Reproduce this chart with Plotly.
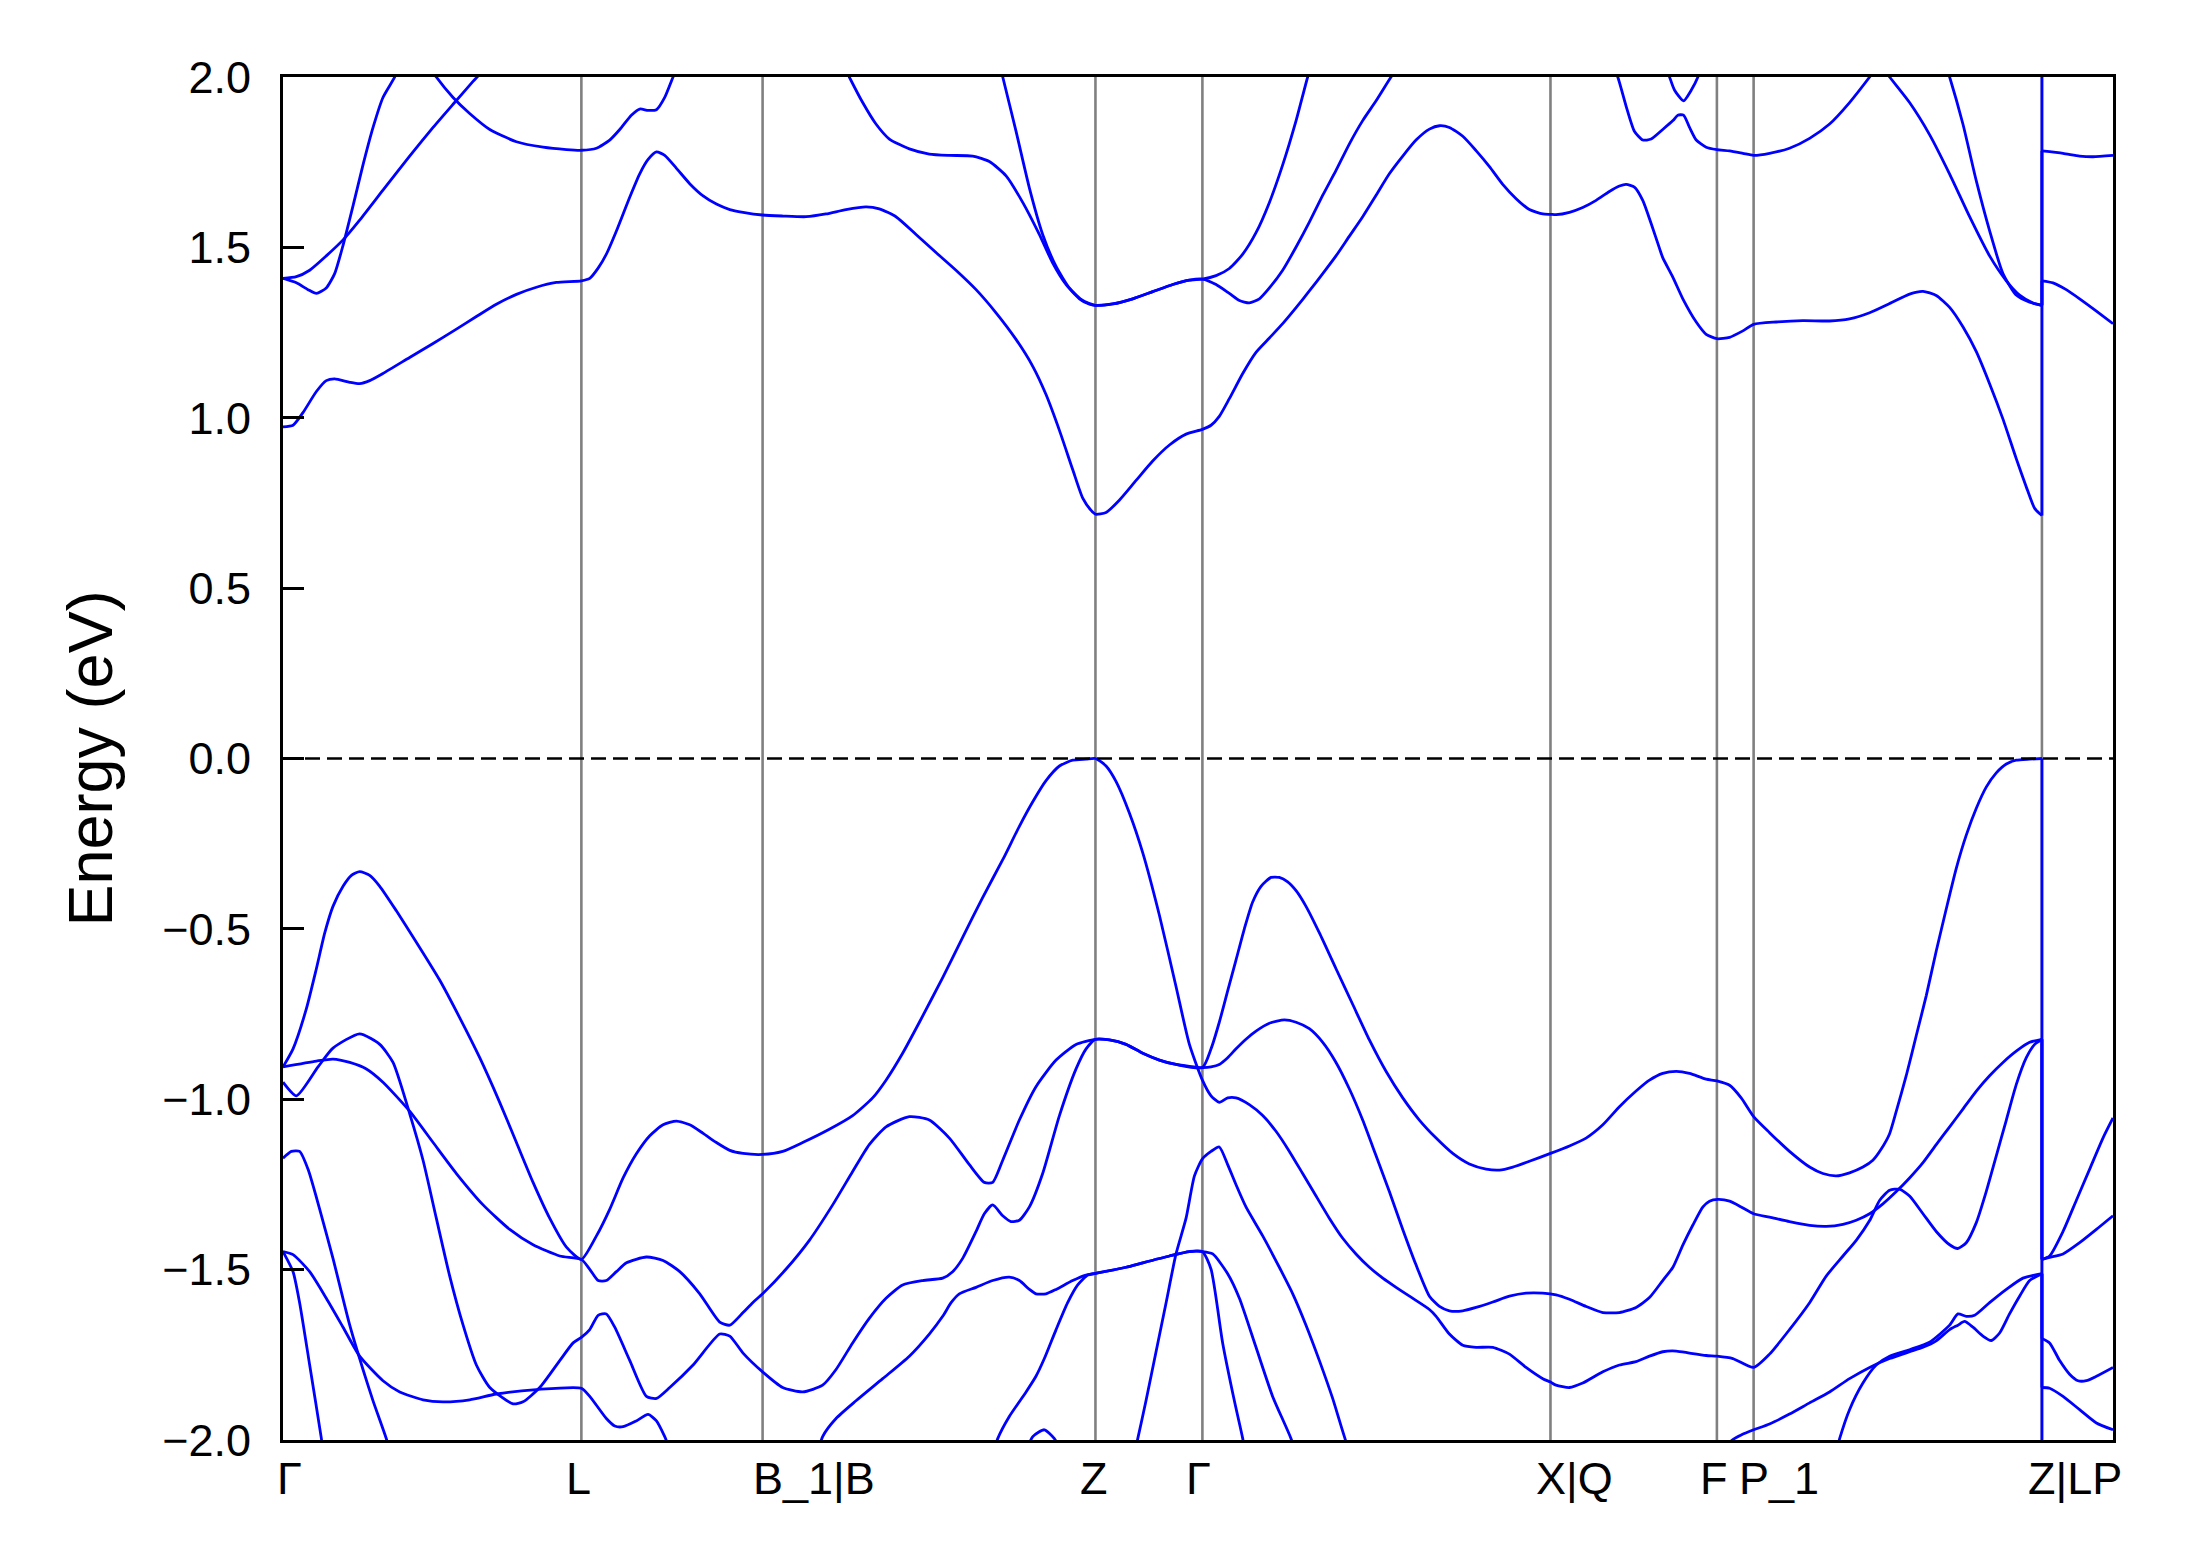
import plotly.graph_objects as go

# ---------------- data ----------------
TICK_K = [0.000, 2.137, 3.435, 5.819, 6.585, 9.078, 10.270, 10.533, 12.598, 13.107]
TICK_LABELS = ["Γ", "L", "B_1|B", "Z", "Γ", "X|Q", "F", "P_1", "Z|LP", ""]
Y_TICKS = [-2.0, -1.5, -1.0, -0.5, 0.0, 0.5, 1.0, 1.5, 2.0]
Y_TICK_TEXT = ["−2.0", "−1.5", "−1.0", "−0.5", "0.0", "0.5", "1.0", "1.5", "2.0"]

V1 = [(0.000, -0.905), (0.072, -0.852), (0.167, -0.735), (0.239, -0.617), (0.299, -0.512), (0.358, -0.434), (0.430, -0.375), (0.490, -0.343), (0.549, -0.332), (0.621, -0.343), (0.693, -0.375), (0.812, -0.447), (0.955, -0.539), (1.122, -0.650), (1.266, -0.761), (1.409, -0.878), (1.552, -1.009), (1.672, -1.127), (1.791, -1.244), (1.910, -1.349), (2.030, -1.434), (2.137, -1.470),
      (2.245, -1.401), (2.340, -1.323), (2.436, -1.231), (2.531, -1.160), (2.627, -1.107), (2.722, -1.075), (2.818, -1.064), (2.913, -1.075), (3.009, -1.100), (3.104, -1.127), (3.200, -1.150), (3.295, -1.159), (3.435, -1.162),
      (3.579, -1.153), (3.722, -1.127), (3.913, -1.088), (4.080, -1.048), (4.223, -0.996), (4.319, -0.944), (4.438, -0.865), (4.558, -0.774), (4.725, -0.643), (4.868, -0.525), (5.011, -0.408), (5.155, -0.297), (5.274, -0.199), (5.370, -0.127), (5.465, -0.065), (5.561, -0.022), (5.656, -0.005), (5.752, -0.002), (5.819, 0.000),
      (5.895, -0.022), (5.967, -0.068), (6.062, -0.160), (6.158, -0.277), (6.277, -0.460), (6.396, -0.669), (6.492, -0.839), (6.585, -0.944),
      (6.647, -0.990), (6.706, -1.009), (6.766, -0.996), (6.826, -0.996), (6.921, -1.016), (7.017, -1.048), (7.112, -1.094), (7.208, -1.153), (7.303, -1.218), (7.399, -1.284), (7.494, -1.349), (7.590, -1.408), (7.685, -1.454), (7.781, -1.493), (7.877, -1.525), (7.972, -1.552), (8.068, -1.578), (8.211, -1.617), (8.259, -1.637), (8.354, -1.689), (8.450, -1.722), (8.545, -1.728), (8.665, -1.728), (8.784, -1.748), (8.903, -1.787), (9.023, -1.820), (9.078, -1.830), (9.118, -1.839), (9.214, -1.846), (9.309, -1.833), (9.453, -1.800), (9.572, -1.780), (9.691, -1.770), (9.787, -1.754), (9.882, -1.741),
      (9.979, -1.739), (10.074, -1.745), (10.193, -1.752), (10.270, -1.754), (10.384, -1.761), (10.533, -1.787), (10.647, -1.748), (10.790, -1.676), (10.934, -1.597), (11.053, -1.519), (11.173, -1.460), (11.268, -1.414), (11.364, -1.356), (11.435, -1.297), (11.507, -1.267), (11.578, -1.264), (11.650, -1.284), (11.746, -1.336), (11.841, -1.388), (11.937, -1.427), (11.996, -1.438), (12.056, -1.421), (12.128, -1.362), (12.199, -1.271), (12.271, -1.166), (12.343, -1.061), (12.414, -0.957), (12.486, -0.878), (12.546, -0.839), (12.598, -0.824),
      (12.598, -1.470), (12.653, -1.460), (12.749, -1.388), (12.844, -1.297), (12.940, -1.205), (13.035, -1.114), (13.107, -1.055)]

V2 = [(0.000, -0.905), (0.239, -0.888), (0.358, -0.882), (0.478, -0.892), (0.597, -0.911), (0.716, -0.950), (0.907, -1.035), (1.075, -1.127), (1.242, -1.218), (1.433, -1.310), (1.624, -1.382), (1.791, -1.427), (1.982, -1.460), (2.137, -1.470),
      (2.197, -1.499), (2.257, -1.532), (2.316, -1.532), (2.388, -1.506), (2.460, -1.480), (2.603, -1.463), (2.722, -1.473), (2.842, -1.506), (2.985, -1.571), (3.128, -1.654), (3.200, -1.663), (3.295, -1.626), (3.364, -1.597), (3.435, -1.571),
      (3.602, -1.499), (3.770, -1.414), (3.937, -1.310), (4.080, -1.212), (4.199, -1.133), (4.319, -1.081), (4.486, -1.051), (4.629, -1.061), (4.773, -1.114), (4.916, -1.192), (5.023, -1.244), (5.083, -1.244), (5.155, -1.179), (5.274, -1.061), (5.393, -0.963), (5.537, -0.885), (5.680, -0.839), (5.819, -0.824),
      (5.919, -0.826), (6.038, -0.839), (6.158, -0.865), (6.277, -0.885), (6.396, -0.898), (6.585, -0.907),
      (6.647, -0.852), (6.706, -0.774), (6.766, -0.682), (6.826, -0.591), (6.886, -0.499), (6.945, -0.421), (7.005, -0.375), (7.077, -0.349), (7.136, -0.349), (7.196, -0.362), (7.256, -0.388), (7.327, -0.434), (7.423, -0.512), (7.542, -0.617), (7.662, -0.722), (7.781, -0.826), (7.900, -0.918), (8.020, -0.996), (8.139, -1.061), (8.259, -1.114), (8.378, -1.159), (8.497, -1.190), (8.617, -1.205), (8.712, -1.208), (8.808, -1.199), (8.927, -1.182), (9.078, -1.159), (9.214, -1.137), (9.333, -1.114), (9.453, -1.075), (9.572, -1.022), (9.691, -0.976), (9.787, -0.944), (9.882, -0.924),
      (9.979, -0.918), (10.074, -0.924), (10.193, -0.941), (10.270, -0.946), (10.361, -0.959), (10.444, -0.996), (10.533, -1.051), (10.647, -1.098), (10.790, -1.153), (10.934, -1.199), (11.029, -1.218), (11.125, -1.225), (11.220, -1.216), (11.316, -1.199), (11.387, -1.179), (11.447, -1.146), (11.507, -1.101), (11.555, -1.035), (11.626, -0.931), (11.698, -0.813), (11.770, -0.695), (11.841, -0.565), (11.913, -0.441), (11.984, -0.323), (12.056, -0.225), (12.128, -0.146), (12.199, -0.084), (12.271, -0.042), (12.343, -0.016), (12.414, -0.005), (12.510, -0.002), (12.598, 0.000),
      (12.598, -1.470), (12.653, -1.464), (12.749, -1.454), (12.868, -1.421), (12.988, -1.382), (13.107, -1.342)]

V3 = [(0.000, -0.950), (0.096, -0.990), (0.251, -0.905), (0.358, -0.850), (0.549, -0.808), (0.693, -0.839), (0.788, -0.892), (0.907, -1.042), (1.003, -1.179), (1.098, -1.349), (1.194, -1.519), (1.290, -1.663), (1.385, -1.780), (1.481, -1.846), (1.648, -1.894), (1.719, -1.888), (1.839, -1.846), (1.982, -1.767), (2.078, -1.715), (2.137, -1.699),
      (2.197, -1.676), (2.257, -1.634), (2.316, -1.630), (2.376, -1.669), (2.484, -1.767), (2.603, -1.872), (2.675, -1.878), (2.770, -1.846), (2.937, -1.780), (3.128, -1.689), (3.200, -1.695), (3.295, -1.745), (3.435, -1.800),
      (3.579, -1.846), (3.722, -1.859), (3.865, -1.839), (3.961, -1.793), (4.080, -1.715), (4.199, -1.643), (4.319, -1.584), (4.438, -1.545), (4.582, -1.532), (4.725, -1.525), (4.796, -1.506), (4.868, -1.467), (4.964, -1.388), (5.023, -1.336), (5.083, -1.310), (5.155, -1.342), (5.214, -1.359), (5.274, -1.355), (5.346, -1.316), (5.441, -1.218), (5.561, -1.048), (5.680, -0.911), (5.752, -0.852), (5.819, -0.824),
      (5.919, -0.826), (6.038, -0.839), (6.158, -0.865), (6.277, -0.885), (6.396, -0.898), (6.585, -0.907),
      (6.647, -0.905), (6.706, -0.898), (6.766, -0.878), (6.826, -0.852), (6.897, -0.824), (6.969, -0.800), (7.065, -0.777), (7.172, -0.767), (7.256, -0.774), (7.351, -0.793), (7.447, -0.833), (7.542, -0.892), (7.638, -0.970), (7.733, -1.061), (7.829, -1.166), (7.924, -1.271), (8.020, -1.382), (8.115, -1.486), (8.211, -1.578), (8.283, -1.608), (8.354, -1.621), (8.450, -1.621), (8.545, -1.611), (8.665, -1.595), (8.784, -1.578), (8.903, -1.569), (9.023, -1.569), (9.118, -1.574), (9.214, -1.587), (9.333, -1.608), (9.453, -1.626), (9.572, -1.626), (9.691, -1.611), (9.787, -1.582), (9.882, -1.532),
      (9.955, -1.493), (10.026, -1.428), (10.098, -1.369), (10.170, -1.316), (10.217, -1.299), (10.277, -1.294), (10.361, -1.299), (10.444, -1.316), (10.533, -1.336), (10.647, -1.346), (10.790, -1.359), (10.934, -1.370), (11.053, -1.373), (11.173, -1.367), (11.268, -1.355), (11.364, -1.336), (11.459, -1.307), (11.555, -1.271), (11.650, -1.231), (11.746, -1.186), (11.841, -1.133), (11.937, -1.081), (12.032, -1.029), (12.128, -0.976), (12.223, -0.931), (12.319, -0.892), (12.414, -0.859), (12.510, -0.833), (12.598, -0.824),
      (12.598, -1.702), (12.653, -1.715), (12.725, -1.767), (12.796, -1.807), (12.856, -1.826), (12.916, -1.826), (12.988, -1.813), (13.107, -1.787)]

V4 = [(0.000, -1.447), (0.072, -1.456), (0.191, -1.506), (0.310, -1.584), (0.430, -1.669), (0.549, -1.754), (0.716, -1.826), (0.836, -1.859), (1.003, -1.882), (1.146, -1.888), (1.337, -1.882), (1.528, -1.865), (1.815, -1.852), (2.137, -1.848),
      (2.197, -1.872), (2.316, -1.937), (2.376, -1.959), (2.436, -1.961), (2.531, -1.944), (2.615, -1.925), (2.675, -1.944), (2.734, -1.990), (2.850, -2.100), (3.435, -2.300), (3.750, -2.150),
      (3.865, -1.990), (3.961, -1.937), (4.104, -1.885), (4.295, -1.820), (4.486, -1.754), (4.629, -1.689), (4.725, -1.637), (4.785, -1.597), (4.844, -1.571), (4.964, -1.552), (5.083, -1.532), (5.202, -1.522), (5.274, -1.532), (5.346, -1.558), (5.393, -1.571), (5.465, -1.571), (5.537, -1.558), (5.656, -1.532), (5.752, -1.516), (5.819, -1.511),
      (6.038, -1.493), (6.158, -1.480), (6.349, -1.460), (6.492, -1.447), (6.585, -1.447),
      (6.659, -1.454), (6.766, -1.512), (6.850, -1.584), (6.969, -1.728), (7.088, -1.872), (7.220, -1.996), (7.350, -2.150), (9.078, -2.500), (10.100, -2.200), (10.300, -2.040),
      (10.380, -2.000), (10.444, -1.985), (10.533, -1.970), (10.647, -1.953), (10.790, -1.924), (10.934, -1.891), (11.077, -1.859), (11.220, -1.820), (11.364, -1.787), (11.507, -1.761), (11.650, -1.741), (11.746, -1.728), (11.841, -1.709), (11.937, -1.676), (11.996, -1.663), (12.044, -1.652), (12.104, -1.669), (12.175, -1.695), (12.235, -1.708), (12.295, -1.686), (12.366, -1.630), (12.438, -1.578), (12.510, -1.532), (12.598, -1.512),
      (12.598, -1.846), (12.653, -1.848), (12.749, -1.872), (12.868, -1.911), (12.988, -1.950), (13.107, -1.970)]

V5 = [(0.000, -1.173), (0.060, -1.153), (0.119, -1.153), (0.179, -1.205), (0.263, -1.323), (0.358, -1.467), (0.478, -1.663), (0.573, -1.793), (0.645, -1.885), (0.740, -1.996), (0.800, -2.080), (2.137, -2.400), (4.500, -2.400), (5.298, -2.050), (5.370, -1.990), (5.453, -1.970), (5.525, -1.996), (5.584, -2.040), (5.819, -2.200), (6.050, -2.130),
      (6.122, -1.996), (6.181, -1.885), (6.253, -1.741), (6.325, -1.597), (6.396, -1.454), (6.468, -1.349), (6.528, -1.225), (6.585, -1.175),
      (6.647, -1.153), (6.706, -1.140), (6.766, -1.192), (6.826, -1.251), (6.897, -1.316), (7.017, -1.401), (7.136, -1.493), (7.232, -1.571), (7.327, -1.663), (7.423, -1.767), (7.518, -1.878), (7.602, -1.990), (7.700, -2.100), (9.078, -2.500), (11.050, -2.150),
      (11.149, -1.996), (11.220, -1.911), (11.316, -1.833), (11.411, -1.780), (11.507, -1.754), (11.650, -1.735), (11.793, -1.713), (11.937, -1.663), (11.996, -1.630), (12.056, -1.637), (12.116, -1.634), (12.223, -1.597), (12.343, -1.558), (12.462, -1.525), (12.598, -1.512),
      (12.598, -2.300), (13.107, -2.300)]

V6 = [(0.000, -1.447), (0.072, -1.506), (0.119, -1.597), (0.191, -1.780), (0.275, -1.996), (0.310, -2.100), (2.137, -2.500), (4.900, -2.300), (5.050, -2.090),
      (5.119, -1.996), (5.202, -1.931), (5.322, -1.859), (5.393, -1.813), (5.453, -1.761), (5.537, -1.676), (5.620, -1.597), (5.692, -1.545), (5.764, -1.516), (5.819, -1.511),
      (6.038, -1.493), (6.158, -1.480), (6.349, -1.460), (6.492, -1.447), (6.585, -1.447),
      (6.647, -1.499), (6.730, -1.715), (6.814, -1.885), (6.874, -1.996), (6.920, -2.100), (7.100, -2.300)]

C1 = [(0.000, 0.973), (0.072, 0.978), (0.143, 1.015), (0.239, 1.077), (0.310, 1.109), (0.370, 1.114), (0.478, 1.104), (0.549, 1.100), (0.621, 1.109), (0.716, 1.130), (0.907, 1.177), (1.075, 1.218), (1.242, 1.260), (1.385, 1.297), (1.528, 1.333), (1.672, 1.362), (1.815, 1.383), (1.958, 1.397), (2.137, 1.402),
      (2.197, 1.409), (2.257, 1.439), (2.316, 1.480), (2.388, 1.548), (2.484, 1.648), (2.555, 1.716), (2.615, 1.758), (2.675, 1.780), (2.734, 1.770), (2.818, 1.732), (2.913, 1.687), (3.009, 1.651), (3.104, 1.627), (3.200, 1.611), (3.295, 1.603), (3.435, 1.595),
      (3.579, 1.592), (3.746, 1.590), (3.889, 1.598), (4.032, 1.611), (4.176, 1.619), (4.271, 1.613), (4.390, 1.590), (4.534, 1.538), (4.677, 1.485), (4.820, 1.433), (4.964, 1.376), (5.107, 1.308), (5.250, 1.230), (5.370, 1.151), (5.465, 1.068), (5.561, 0.963), (5.656, 0.848), (5.728, 0.764), (5.788, 0.728), (5.819, 0.717),
      (5.895, 0.722), (5.990, 0.758), (6.110, 0.816), (6.229, 0.873), (6.349, 0.920), (6.468, 0.952), (6.585, 0.966),
      (6.647, 0.978), (6.706, 1.004), (6.778, 1.056), (6.874, 1.130), (6.969, 1.192), (7.065, 1.234), (7.160, 1.276), (7.256, 1.323), (7.351, 1.372), (7.447, 1.423), (7.542, 1.475), (7.638, 1.533), (7.733, 1.590), (7.829, 1.653), (7.924, 1.716), (8.020, 1.768), (8.115, 1.815), (8.211, 1.847), (8.283, 1.857), (8.354, 1.852), (8.450, 1.826), (8.545, 1.784), (8.641, 1.737), (8.736, 1.685), (8.832, 1.643), (8.927, 1.611), (9.023, 1.598), (9.078, 1.597), (9.118, 1.596), (9.214, 1.603), (9.309, 1.617), (9.405, 1.638), (9.500, 1.664), (9.572, 1.680), (9.620, 1.685), (9.679, 1.677), (9.739, 1.638), (9.799, 1.570), (9.859, 1.497), (9.882, 1.470),
      (9.955, 1.412), (10.026, 1.349), (10.122, 1.281), (10.193, 1.245), (10.270, 1.232), (10.361, 1.236), (10.456, 1.255), (10.533, 1.274), (10.695, 1.281), (10.886, 1.285), (11.077, 1.284), (11.220, 1.290), (11.364, 1.308), (11.507, 1.335), (11.650, 1.363), (11.746, 1.371), (11.841, 1.359), (11.937, 1.324), (12.032, 1.267), (12.128, 1.194), (12.223, 1.100), (12.319, 0.996), (12.414, 0.880), (12.486, 0.797), (12.546, 0.734), (12.598, 0.713),
      (12.598, 1.402), (12.677, 1.396), (12.772, 1.376), (12.868, 1.349), (12.988, 1.313), (13.107, 1.276)]

C2 = [(0.000, 1.409), (0.096, 1.414), (0.191, 1.433), (0.310, 1.475), (0.430, 1.522), (0.549, 1.580), (0.716, 1.668), (0.907, 1.768), (1.075, 1.852), (1.218, 1.920), (1.361, 1.987), (1.433, 2.020), (1.600, 2.150), (2.137, 2.300), (3.435, 2.300), (3.950, 2.100),
      (4.008, 2.040), (4.056, 2.000), (4.152, 1.925), (4.247, 1.862), (4.343, 1.818), (4.486, 1.789), (4.629, 1.774), (4.773, 1.770), (4.940, 1.768), (5.059, 1.752), (5.179, 1.710), (5.298, 1.632), (5.417, 1.538), (5.513, 1.454), (5.608, 1.391), (5.704, 1.349), (5.776, 1.333), (5.819, 1.330),
      (5.943, 1.334), (6.086, 1.349), (6.229, 1.370), (6.373, 1.391), (6.492, 1.404), (6.585, 1.407),
      (6.683, 1.391), (6.778, 1.365), (6.850, 1.344), (6.921, 1.337), (6.993, 1.349), (7.065, 1.381), (7.160, 1.433), (7.256, 1.501), (7.351, 1.574), (7.447, 1.653), (7.542, 1.726), (7.638, 1.804), (7.733, 1.872), (7.829, 1.930), (7.936, 2.000), (7.972, 2.020), (8.500, 2.200), (9.400, 2.150),
      (9.536, 2.020), (9.560, 2.000), (9.620, 1.914), (9.679, 1.841), (9.739, 1.815), (9.799, 1.818), (9.882, 1.846),
      (9.955, 1.872), (9.990, 1.888), (10.031, 1.888), (10.074, 1.852), (10.122, 1.815), (10.193, 1.794), (10.270, 1.787), (10.361, 1.783), (10.456, 1.776), (10.533, 1.770), (10.647, 1.776), (10.790, 1.791), (10.934, 1.820), (11.077, 1.862), (11.220, 1.925), (11.364, 2.000), (11.435, 2.040),
      (11.507, 2.000), (11.650, 1.925), (11.793, 1.831), (11.937, 1.715), (12.080, 1.590), (12.223, 1.475), (12.343, 1.402), (12.438, 1.360), (12.534, 1.337), (12.598, 1.330),
      (12.598, 1.783), (12.749, 1.776), (12.868, 1.768), (12.964, 1.766), (13.107, 1.770)]

C3 = [(0.000, 1.409), (0.096, 1.396), (0.179, 1.376), (0.239, 1.365), (0.310, 1.381), (0.370, 1.423), (0.430, 1.506), (0.501, 1.621), (0.573, 1.742), (0.645, 1.852), (0.716, 1.940), (0.800, 2.000), (0.824, 2.030), (0.950, 2.150), (1.051, 2.030),
      (1.098, 2.000), (1.218, 1.940), (1.337, 1.893), (1.481, 1.846), (1.672, 1.810), (1.863, 1.794), (2.030, 1.787), (2.137, 1.785),
      (2.245, 1.791), (2.340, 1.815), (2.412, 1.846), (2.495, 1.888), (2.555, 1.906), (2.615, 1.902), (2.675, 1.904), (2.734, 1.940), (2.794, 2.000), (2.818, 2.020), (3.500, 2.300), (5.000, 2.100),
      (5.131, 2.040), (5.155, 2.000), (5.250, 1.841), (5.346, 1.674), (5.441, 1.538), (5.537, 1.444), (5.632, 1.381), (5.728, 1.344), (5.819, 1.330),
      (5.943, 1.334), (6.086, 1.349), (6.229, 1.370), (6.373, 1.391), (6.492, 1.404), (6.585, 1.407),
      (6.683, 1.417), (6.778, 1.438), (6.874, 1.480), (6.969, 1.543), (7.065, 1.632), (7.160, 1.742), (7.256, 1.872), (7.339, 2.000), (7.363, 2.030), (8.500, 2.300), (9.850, 2.080),
      (9.907, 2.030), (9.931, 2.000), (9.967, 1.961), (10.031, 1.930), (10.086, 1.961), (10.134, 2.000), (10.158, 2.030), (11.000, 2.300), (11.850, 2.100),
      (11.913, 2.030), (11.937, 2.000), (12.032, 1.862), (12.128, 1.695), (12.223, 1.549), (12.319, 1.423), (12.414, 1.360), (12.510, 1.339), (12.598, 1.330),
      (12.598, 2.300), (13.107, 2.300)]

BANDS = [V1, V2, V3, V4, V5, V6, C1, C2, C3]

# ---------------- style ----------------
BAND_COLOR = "#0000ff"
BAND_WIDTH = 2.8
FONT = "Liberation Sans, Arial, Helvetica, sans-serif"
LABEL_SHIFT = [6, -3, 51, -1, -4, 24, -3, 25, 33, 0]

fig = go.Figure()


def add_line(pts, shape):
    fig.add_trace(go.Scatter(
        x=[p[0] for p in pts], y=[p[1] for p in pts], mode="lines",
        line=dict(color=BAND_COLOR, width=BAND_WIDTH, shape=shape, smoothing=0.6 if shape == "spline" else None),
        hoverinfo="skip", showlegend=False))


for band in BANDS:
    cut = None
    for i in range(1, len(band)):
        if band[i][0] == band[i - 1][0]:
            cut = i
            break
    if cut is None:
        add_line(band, "spline")
    else:
        add_line(band[:cut], "spline")
        add_line(band[cut - 1:cut + 1], "linear")
        add_line(band[cut:], "spline")

shapes = []
for k in TICK_K[1:-1]:
    shapes.append(dict(type="line", xref="x", yref="paper", x0=k, x1=k, y0=0, y1=1,
                       line=dict(color="#808080", width=2.6), layer="below"))
shapes.append(dict(type="line", xref="paper", yref="y", x0=0, x1=1, y0=0, y1=0,
                   line=dict(color="black", width=2.6, dash="15px,7px"), layer="above"))

annotations = []
for k, lab, sh in zip(TICK_K, TICK_LABELS, LABEL_SHIFT):
    if not lab:
        continue
    annotations.append(dict(x=k, y=0, xref="x", yref="paper", text=lab, showarrow=False,
                            xanchor="center", yanchor="top", xshift=sh, yshift=-11,
                            font=dict(family=FONT, size=45, color="black")))
annotations.append(dict(x=0, y=0.5, xref="paper", yref="paper", text="Energy (eV)", showarrow=False,
                        textangle=-90, xanchor="center", yanchor="middle", xshift=-194,
                        font=dict(family=FONT, size=63, color="black")))

fig.update_layout(
    width=2189, height=1567,
    margin=dict(l=283, r=76, t=77, b=127),
    paper_bgcolor="white", plot_bgcolor="white",
    shapes=shapes, annotations=annotations,
    xaxis=dict(range=[TICK_K[0], TICK_K[-1]], showgrid=False, zeroline=False,
               showticklabels=False, ticks="", showline=True, mirror=True,
               linecolor="black", linewidth=3),
    yaxis=dict(range=[-2, 2], showgrid=False, zeroline=False, tickvals=Y_TICKS, ticktext=Y_TICK_TEXT,
               ticks="inside", ticklen=21, tickwidth=3, tickcolor="black",
               tickfont=dict(family=FONT, size=45, color="black"), ticklabelstandoff=20,
               showline=True, mirror=True, linecolor="black", linewidth=3),
)

fig.write_html("out.html", config={"displayModeBar": False},
               post_script="document.body.style.margin='0';document.body.style.overflow='hidden';")
